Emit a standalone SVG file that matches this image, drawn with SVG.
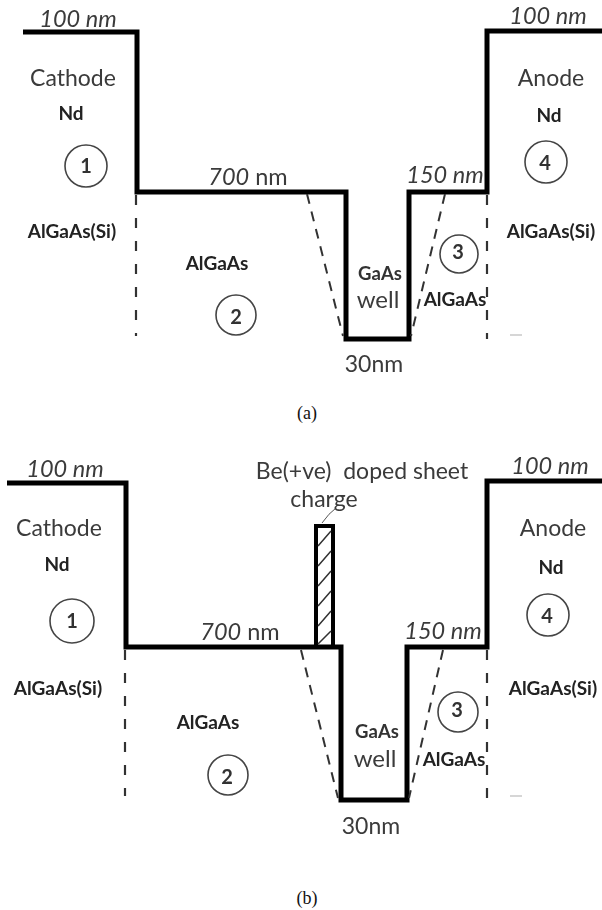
<svg xmlns="http://www.w3.org/2000/svg" width="602" height="910" viewBox="0 0 602 910">
<style>
text{font-family:Lato,"Open Sans",sans-serif;fill:#3a3a3a;text-anchor:middle}
.l{font-size:23px}
.i{font-size:23.5px;font-style:italic}
.b{font-size:19px;font-weight:700;fill:#222}
.n{font-size:20px;fill:#333;font-weight:700}
.g{font-size:18.5px;fill:#333;font-weight:700}
.w{font-size:24px}
.cap{font-family:"Liberation Serif",serif;font-size:18px;fill:#111}
.band{fill:none;stroke:#000;stroke-width:5;stroke-linejoin:miter}
.dash{fill:none;stroke:#333;stroke-width:2.2;stroke-dasharray:10 13}
.diag{fill:none;stroke:#333;stroke-width:2;stroke-dasharray:10 8}
.c{fill:none;stroke:#444;stroke-width:1.6}
.f{stroke:#ccc;stroke-width:1.6}
</style>
<defs><filter id="s" x="-5%" y="-5%" width="110%" height="110%"><feGaussianBlur stdDeviation="0.55"/></filter></defs>
<rect width="602" height="910" fill="#fff"/>
<g filter="url(#s)">
<g id="connectors">
<path class="band" d="M23 32H137V192H346V339H409V192H487V31H602"/>
<path class="dash" d="M136 195V336"/>
<path class="diag" d="M307 194L343 336"/>
<path class="diag" d="M445 194L411 336"/>
<path class="dash" d="M487 195V339"/>
<path class="f" d="M510 335H522"/>
<path class="band" d="M7 483H126V647H341V800H407V647H487V481H602"/>
<path class="dash" d="M125 650V796"/>
<path class="diag" d="M301 650L338 798"/>
<path class="diag" d="M443 650L409 798"/>
<path class="dash" d="M487 650V800"/>
<path class="f" d="M510 796H522"/>
</g>
<g id="a-labels">
<text class="i" x="78" y="27">100 nm</text>
<text class="l" x="73" y="86">Cathode</text>
<text class="b" x="71" y="120">Nd</text>
<text class="b" x="72" y="238">AlGaAs(Si)</text>
<text class="i" x="248" y="185">700<tspan font-style="normal"> nm</tspan></text>
<text class="b" x="217" y="270">AlGaAs</text>
<text class="i" x="445" y="183">150 nm</text>
<text class="g" x="380" y="280">GaAs</text>
<text class="w" x="378" y="308">well</text>
<text class="b" x="455" y="306">AlGaAs</text>
<text class="l" x="374" y="372">30nm</text>
<text class="i" x="548" y="24">100 nm</text>
<text class="l" x="551" y="86">Anode</text>
<text class="b" x="549" y="122">Nd</text>
<text class="b" x="551" y="238">AlGaAs(Si)</text>
</g>
<g id="a-n1"><circle class="c" cx="86" cy="166" r="21"/><text class="n" x="86" y="173">1</text></g>
<g id="a-n2"><circle class="c" cx="236" cy="315" r="20"/><text class="n" x="236" y="324">2</text></g>
<g id="a-n3"><circle class="c" cx="459" cy="254" r="19"/><text class="n" x="458" y="259">3</text></g>
<g id="a-n4"><circle class="c" cx="546" cy="162" r="21"/><text class="n" x="545" y="170">4</text></g>
<g id="sheet">
<rect x="316" y="526" width="17" height="121" fill="none" stroke="#000" stroke-width="4"/>
<path d="M318 546L331 531M318 566L331 551M318 586L331 571M318 606L331 591M318 626L331 611M318 644L331 631" stroke="#333" stroke-width="1.5" fill="none"/>
<path d="M322 523Q329 513 336 508" stroke="#555" stroke-width="1" fill="none"/>
</g>
<g id="b-labels">
<text class="i" x="65" y="477">100 nm</text>
<text class="l" x="59" y="536">Cathode</text>
<text class="b" x="57" y="571">Nd</text>
<text class="b" x="58" y="695">AlGaAs(Si)</text>
<text class="i" x="240" y="640">700<tspan font-style="normal"> nm</tspan></text>
<text class="b" x="208" y="729">AlGaAs</text>
<text class="l" x="362" y="479" xml:space="preserve">Be(+ve)  doped sheet</text>
<text class="l" x="324" y="507">charge</text>
<text class="i" x="443" y="639">150 nm</text>
<text class="g" x="377" y="738">GaAs</text>
<text class="w" x="375" y="767">well</text>
<text class="b" x="454" y="766">AlGaAs</text>
<text class="l" x="371" y="834">30nm</text>
<text class="i" x="550" y="474">100 nm</text>
<text class="l" x="553" y="536">Anode</text>
<text class="b" x="551" y="574">Nd</text>
<text class="b" x="553" y="695">AlGaAs(Si)</text>
</g>
<g id="b-n1"><circle class="c" cx="72" cy="621" r="22"/><text class="n" x="72" y="628">1</text></g>
<g id="b-n2"><circle class="c" cx="228" cy="775" r="20"/><text class="n" x="227" y="784">2</text></g>
<g id="b-n3"><circle class="c" cx="458" cy="712" r="20"/><text class="n" x="457" y="717">3</text></g>
<g id="b-n4"><circle class="c" cx="548" cy="615" r="21"/><text class="n" x="547" y="623">4</text></g>
</g>
<text class="cap" x="307" y="419">(a)</text>
<text class="cap" x="307" y="904">(b)</text>
</svg>
